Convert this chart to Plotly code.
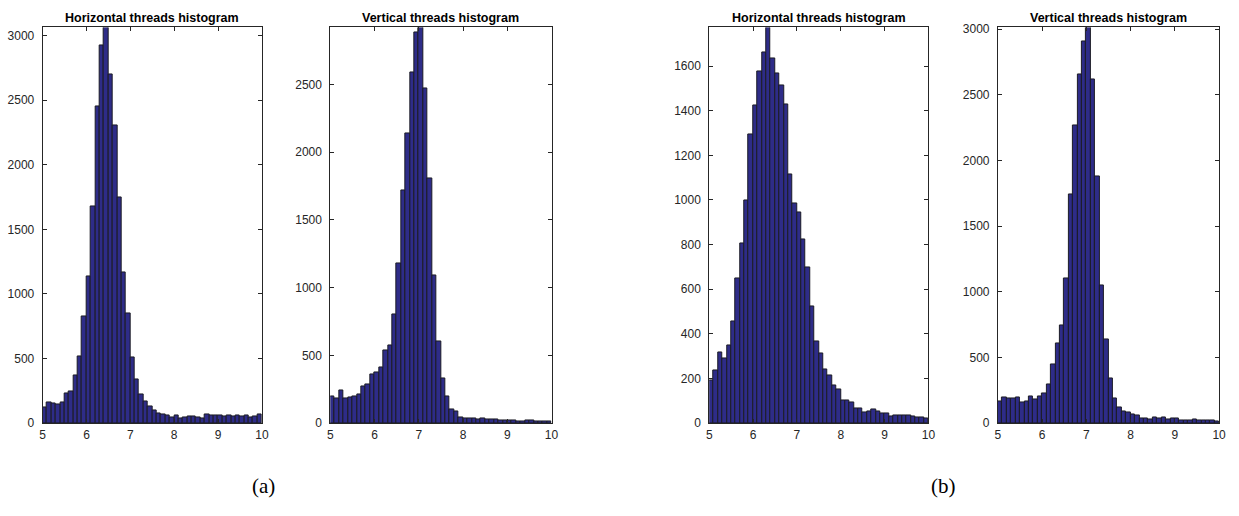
import plotly.graph_objects as go

bin_edges_start = 5.0
bin_width = 0.1
n_bins = 50
centers = [round(bin_edges_start + bin_width * (i + 0.5), 3) for i in range(n_bins)]

a_horizontal = [123, 158, 155, 143, 163, 226, 248, 371, 512, 823,
                1132, 1676, 2453, 2923, 3063, 2696, 2304, 1747, 1164, 850,
                507, 341, 221, 168, 125, 98, 73, 63, 58, 45,
                55, 38, 43, 53, 48, 40, 35, 68, 55, 58,
                55, 53, 55, 50, 58, 48, 58, 43, 48, 63]
a_vertical = [196, 184, 244, 179, 187, 194, 210, 268, 285, 359,
              373, 409, 533, 572, 799, 1177, 1718, 2136, 2585, 2881,
              2920, 2468, 1803, 1086, 600, 328, 194, 98, 86, 38,
              33, 33, 31, 26, 31, 24, 24, 24, 19, 17,
              19, 22, 14, 12, 17, 19, 14, 12, 12, 14]
b_horizontal = [192, 237, 318, 291, 348, 455, 647, 806, 996, 1293,
                1422, 1578, 1663, 1773, 1636, 1566, 1515, 1429, 1116, 982,
                945, 822, 696, 523, 367, 313, 239, 214, 169, 150,
                100, 99, 92, 66, 66, 48, 52, 60, 51, 44,
                44, 29, 34, 36, 34, 32, 29, 25, 26, 22]
b_vertical = [163, 193, 185, 190, 195, 158, 166, 205, 180, 205,
              227, 297, 447, 605, 746, 1102, 1738, 2269, 2656, 2908,
              3012, 2618, 1880, 1045, 633, 339, 190, 116, 86, 77,
              62, 59, 35, 35, 30, 42, 35, 42, 30, 37,
              32, 22, 17, 17, 25, 22, 17, 17, 17, 15]

titles = ["Horizontal threads histogram", "Vertical threads histogram",
          "Horizontal threads histogram", "Vertical threads histogram"]
series = [a_horizontal, a_vertical, b_horizontal, b_vertical]
y_ticks = [[0, 500, 1000, 1500, 2000, 2500, 3000],
           [0, 500, 1000, 1500, 2000, 2500],
           [0, 200, 400, 600, 800, 1000, 1200, 1400, 1600],
           [0, 500, 1000, 1500, 2000, 2500, 3000]]
x_ticks = [5, 6, 7, 8, 9, 10]
panel_labels = ["(a)", "(b)"]

W, H = 1239, 516
x_px = [(40, 261), (330, 553), (712, 933), (1003, 1226)]
y_top, y_bot = 23, 428

fig = go.Figure()
axis_col = "#262626"
tick_font = dict(family="Liberation Sans, Arial", size=12, color=axis_col)
for i, vals in enumerate(series):
    k = "" if i == 0 else str(i + 1)
    fig.add_trace(go.Bar(
        x=centers, y=vals, width=bin_width,
        marker=dict(color="#2e2c88", line=dict(color="#1b1b24", width=1)),
        xaxis="x" + k, yaxis="y" + k, showlegend=False,
    ))
    x0, x1 = x_px[i]
    fig.update_layout(**{
        "xaxis" + k: dict(
            domain=[x0 / W, x1 / W], anchor="y" + k, range=[5, 10],
            tickvals=x_ticks, ticks="inside", ticklen=4, tickcolor=axis_col,
            showline=True, linecolor=axis_col, linewidth=1, mirror="ticks",
            showgrid=False, zeroline=False, tickfont=tick_font,
            ticklabelstandoff=1,
        ),
        "yaxis" + k: dict(
            domain=[1 - y_bot / H, 1 - y_top / H], anchor="x" + k,
            range=[0, max(vals)], tickvals=y_ticks[i], ticks="inside", ticklen=4,
            tickcolor=axis_col, showline=True, linecolor=axis_col, linewidth=1,
            mirror="ticks", showgrid=False, zeroline=False, tickfont=tick_font,
            ticklabelstandoff=5,
        ),
    })
    fig.add_annotation(
        text="<b>" + titles[i] + "</b>", xref="paper", yref="paper",
        x=(x0 + x1) / 2 / W, y=1 - y_top / H, yanchor="bottom", xanchor="center",
        showarrow=False, yshift=0,
        font=dict(family="Liberation Sans, Arial", size=12.5, color="#000000"),
    )

label_x = [263, 948]
for lbl, lx in zip(panel_labels, label_x):
    fig.add_annotation(
        text=lbl, xref="paper", yref="paper", x=lx / W, y=1 - 492 / H,
        xanchor="center", yanchor="middle", showarrow=False,
        font=dict(family="Liberation Serif, Times New Roman", size=21, color="#000000"),
    )

fig.update_layout(
    width=W, height=H, margin=dict(l=0, r=0, t=0, b=0),
    paper_bgcolor="white", plot_bgcolor="white", bargap=0,
)
fig.write_html("out.html")
